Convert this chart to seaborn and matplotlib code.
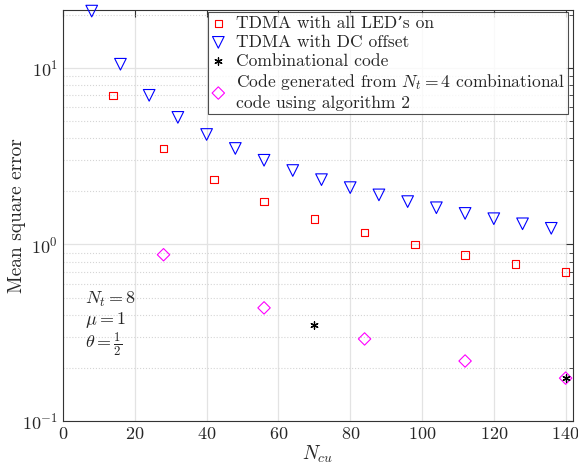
import numpy as np
import pandas as pd
import matplotlib
matplotlib.use('Agg')
import matplotlib.pyplot as plt
import seaborn as sns
from matplotlib.ticker import LogLocator, NullFormatter

# data
x_tdma_on = [14, 28, 42, 56, 70, 84, 98, 112, 126, 140]
y_tdma_on = [7.0, 3.5, 2.33, 1.75, 1.4, 1.167, 1.0, 0.875, 0.778, 0.7]

x_tdma_dc = [8, 16, 24, 32, 40, 48, 56, 64, 72, 80, 88, 96, 104, 112, 120, 128, 136]
y_tdma_dc = [21.0, 10.5, 7.0, 5.25, 4.2, 3.5, 3.0, 2.625, 2.33, 2.1, 1.91, 1.75,
             1.615, 1.5, 1.4, 1.31, 1.235]

x_comb = [70, 140]
y_comb = [0.35, 0.175]

x_gen = [28, 56, 84, 112, 140]
y_gen = [0.875, 0.4375, 0.2917, 0.21875, 0.175]

sns.set_style('white')
plt.rcParams['font.family'] = ['cmr10', 'DejaVu Serif']
plt.rcParams['mathtext.fontset'] = 'cm'
plt.rcParams['axes.formatter.use_mathtext'] = True

fig = plt.figure(figsize=(5.78, 4.68), dpi=100)
ax = fig.add_axes([0.109, 0.1004, 0.882, 0.8782])

df_on = pd.DataFrame({'x': x_tdma_on, 'y': y_tdma_on})
df_dc = pd.DataFrame({'x': x_tdma_dc, 'y': y_tdma_dc})
df_comb = pd.DataFrame({'x': x_comb, 'y': y_comb})
df_gen = pd.DataFrame({'x': x_gen, 'y': y_gen})

sns.scatterplot(data=df_on, x='x', y='y', ax=ax, marker='s', s=30,
                facecolor='none', edgecolor='red', linewidth=0.8,
                label="TDMA with all LED’s on", clip_on=False, zorder=3)
sns.scatterplot(data=df_dc, x='x', y='y', ax=ax, marker='v', s=70,
                facecolor='none', edgecolor='blue', linewidth=0.8,
                label='TDMA with DC offset', clip_on=False, zorder=3)
sns.scatterplot(data=df_gen, x='x', y='y', ax=ax, marker='D', s=40,
                facecolor='none', edgecolor='magenta', linewidth=0.8,
                label='Code generated from $N_t=4$ combinational\ncode using algorithm 2',
                clip_on=False, zorder=3)
sns.scatterplot(data=df_comb, x='x', y='y', ax=ax, marker=(6, 2, 0), s=28,
                color='black', edgecolor='black', linewidth=0.9,
                label='Combinational code', clip_on=False, zorder=4)

ax.set_yscale('log')
ax.set_xlim(0, 142)
ax.set_ylim(0.1, 21.3)
ax.set_xticks(range(0, 141, 20))
ax.yaxis.set_major_locator(LogLocator(base=10, numticks=10))
ax.yaxis.set_minor_locator(LogLocator(base=10, subs=np.arange(2, 10), numticks=20))
ax.yaxis.set_minor_formatter(NullFormatter())

ax.grid(True, which='major', color='#e3e3e3', linewidth=0.9)
ax.grid(True, which='minor', axis='y', color='#d5d5d5', linestyle=':', linewidth=0.8)
ax.set_axisbelow(True)

ax.tick_params(which='both', direction='in', top=True, right=True, labelsize=13,
               color='#333333')
ax.tick_params(which='major', length=5)
ax.tick_params(which='minor', length=3)
for sp in ax.spines.values():
    sp.set_color('#333333')
    sp.set_linewidth(0.8)

ax.set_xlabel('$N_{cu}$', fontsize=14)
ax.set_ylabel('Mean square error', fontsize=14)
ax.yaxis.set_label_coords(-0.072, 0.5)
ax.xaxis.set_label_coords(0.5, -0.056)

ax.text(6, 0.487, '$N_t = 8$', fontsize=13, va='center')
ax.text(6, 0.375, r'$\mu = 1$', fontsize=13, va='center')
ax.text(6, 0.272, r'$\theta = \frac{1}{2}$', fontsize=13, va='center')

# legend order as in the reference
handles, labels = ax.get_legend_handles_labels()
order = [0, 1, 3, 2]
leg = ax.legend([handles[i] for i in order], [labels[i] for i in order],
                loc='upper right', bbox_to_anchor=(0.998, 1.003), fontsize=12.6,
                frameon=True, fancybox=False, edgecolor='#222222',
                handletextpad=0.6, borderpad=0.2, labelspacing=0.2,
                handlelength=0.8, borderaxespad=0.2)
leg.get_frame().set_linewidth(0.8)

fig.savefig('out.png', dpi=100)
